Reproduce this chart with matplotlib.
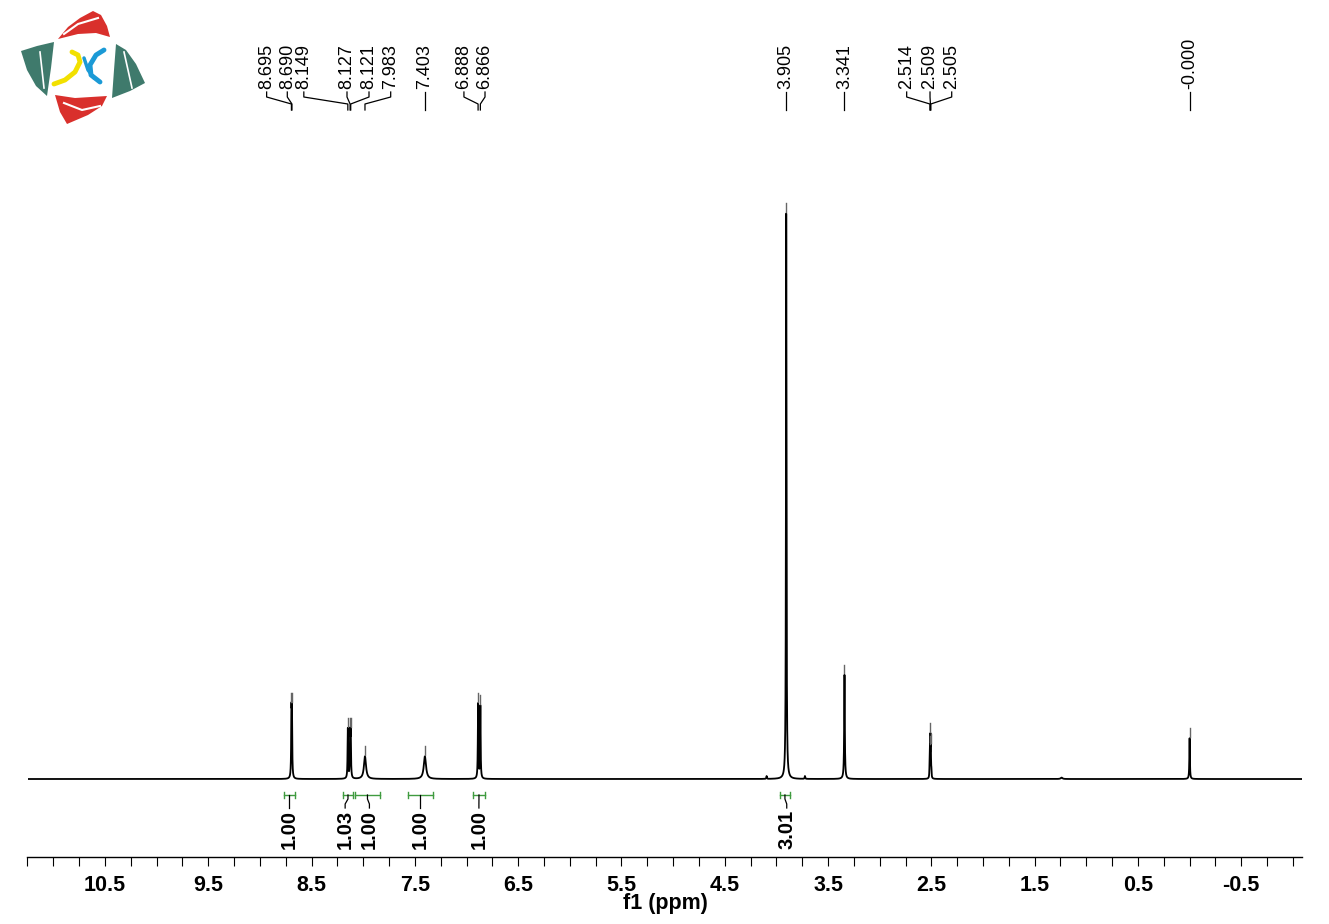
import numpy as np
import matplotlib
matplotlib.use('Agg')
import matplotlib.pyplot as plt
from matplotlib import transforms, font_manager
from matplotlib.patches import Polygon
from matplotlib.ticker import FixedLocator, MultipleLocator

# 1H NMR peak list: shift (ppm), height (3.905 = 100), half width (ppm)
peak_ppm = [8.695, 8.690, 8.149, 8.127, 8.121, 7.983, 7.403, 6.888, 6.866,
            4.095, 3.905, 3.724, 3.341, 2.518, 2.514, 2.509, 2.505, 2.500, 1.239, 0.000]
peak_height = [10.6, 10.6, 8.8, 7.4, 7.4, 4.0, 4.0, 13.2, 12.8,
               0.5, 100.0, 0.5, 18.4, 1.2, 4.5, 6.5, 4.5, 1.2, 0.25, 7.2]
peak_hwhm = [0.003, 0.003, 0.003, 0.003, 0.003, 0.012, 0.013, 0.003, 0.003,
             0.003, 0.003, 0.003, 0.0035, 0.002, 0.002, 0.002, 0.002, 0.002, 0.01, 0.003]

# picked peaks and where their labels sit along the top (ppm)
label_ppm = [8.695, 8.690, 8.149, 8.127, 8.121, 7.983, 7.403, 6.888, 6.866,
             3.905, 3.341, 2.514, 2.509, 2.505, 0.000]
label_pos = [8.935, 8.735, 8.575, 8.157, 7.944, 7.734, 7.403, 7.025, 6.821,
             3.905, 3.341, 2.739, 2.513, 2.303, 0.000]
label_text = ['8.695', '8.690', '8.149', '8.127', '8.121', '7.983', '7.403', '6.888',
              '6.866', '3.905', '3.341', '2.514', '2.509', '2.505', '-0.000']

# integrals: range (ppm), value, label position
int_from = [8.767, 8.196, 8.080, 7.567, 6.938, 3.966]
int_to = [8.661, 8.099, 7.838, 7.325, 6.821, 3.869]
int_value = ['1.00', '1.03', '1.00', '1.00', '1.00', '3.01']
int_label = [8.714, 8.175, 7.940, 7.446, 6.880, 3.900]

tick_labels = [10.5, 9.5, 8.5, 7.5, 6.5, 5.5, 4.5, 3.5, 2.5, 1.5, 0.5, -0.5]

W, H = 1329, 924
fig = plt.figure(figsize=(W / 100, H / 100), dpi=100)
# pixel coords measured from the top-left corner
pxT = transforms.Affine2D().scale(1 / W, -1 / H).translate(0, 1) + fig.transFigure

ax = fig.add_axes([27.5 / W, 1 - 857 / H, (1302.2 - 27.5) / W, (857 - 200) / H])
ax.set_xlim(11.25, -1.09)
ax.set_ylim(-13.78, 102.3)

x = np.linspace(11.25, -1.09, 60000)
y = np.zeros_like(x)
for p, h, w in zip(peak_ppm, peak_height, peak_hwhm):
    y += h / (1 + ((x - p) / w) ** 2)
ax.plot(x, y, color='black', lw=1.3)

# small peak-pick markers above the tops
for p in label_ppm:
    v = np.interp(-p, -x, y)
    ax.plot([p, p], [v + 0.25, v + 1.8], color='#666666', lw=1.0)

for s in ['top', 'left', 'right']:
    ax.spines[s].set_visible(False)
ax.spines['bottom'].set_linewidth(1.0)
ax.set_yticks([])

names = {f.name for f in font_manager.fontManager.ttflist}
if 'Liberation Sans Narrow' in names:
    tfam, tsize = 'Liberation Sans Narrow', 18.5
else:
    tfam, tsize = 'Liberation Sans', 15.5

ax.xaxis.set_major_locator(FixedLocator(tick_labels))
ax.xaxis.set_minor_locator(MultipleLocator(0.25))
ax.set_xticklabels([str(t) for t in tick_labels], fontfamily=tfam,
                   fontsize=tsize, fontweight='bold')
ax.tick_params(axis='x', which='both', direction='out', length=6.5, width=0.8, pad=6.5)
fig.text(665, 903, 'f1 (ppm)', transform=pxT, ha='center', va='center',
         fontfamily=tfam, fontsize=tsize, fontweight='bold')

# peak labels with leader lines
topT = transforms.blended_transform_factory(ax.transData, pxT)
for p, lp, t in zip(label_ppm, label_pos, label_text):
    ax.text(lp, 89, t, transform=topT, rotation=90, ha='center', va='bottom',
            fontfamily='Liberation Sans', fontsize=13)
    ax.plot([lp, lp, p, p], [92, 97, 104, 110], transform=topT, color='black',
            lw=0.9, clip_on=False)

# integral brackets
green = '#3f9b3f'
for a, b, v, lp in zip(int_from, int_to, int_value, int_label):
    ax.plot([a, b], [795, 795], transform=topT, color=green, lw=1.0, clip_on=False)
    for e in (a, b):
        ax.plot([e, e], [792, 798], transform=topT, color=green, lw=1.0, clip_on=False)
    mid = (a + b) / 2
    ax.plot([mid, mid, lp, lp], [795, 799, 804, 808], transform=topT, color='black',
            lw=0.9, clip_on=False)
    ax.text(lp, 810, v, transform=topT, rotation=90, ha='center', va='top',
            fontfamily='Liberation Sans', fontsize=14.5, fontweight='bold')

# logo in the top-left corner
red = '#d9302c'
teal = '#3f7a6c'
shapes = [
    ([(58, 39), (68, 27), (80, 18), (93, 11), (101, 15), (107, 26), (110, 37),
      (96, 33), (78, 34)], red),
    ([(55, 95), (75, 98), (107, 96), (102, 106), (88, 115), (67, 124), (60, 112)], red),
    ([(21, 51), (37, 46), (54, 42), (51, 68), (47, 96), (36, 86), (27, 70)], teal),
    ([(116, 44), (126, 50), (136, 64), (145, 83), (130, 91), (112, 98), (114, 70)], teal),
]
for pts, c in shapes:
    fig.patches.append(Polygon(pts, closed=True, transform=pxT, facecolor=c,
                               edgecolor='none'))
fig.add_artist(plt.Line2D([64, 78, 98], [34, 24, 18], transform=pxT, color='white', lw=1.5))
fig.add_artist(plt.Line2D([64, 82, 100], [103, 110, 106], transform=pxT, color='white', lw=1.5))
fig.add_artist(plt.Line2D([40, 44], [52, 88], transform=pxT, color='white', lw=1.2))
fig.add_artist(plt.Line2D([124, 132], [52, 88], transform=pxT, color='white', lw=1.2))
fig.add_artist(plt.Line2D([54, 65, 75, 80, 78, 72], [84, 80, 72, 62, 55, 52], transform=pxT,
                          color='#f2e000', lw=3.5, solid_capstyle='round'))
fig.add_artist(plt.Line2D([104, 96, 90, 91, 100], [50, 55, 65, 75, 82],
                          transform=pxT, color='#1b9ad6', lw=3.5, solid_capstyle='round'))
fig.add_artist(plt.Line2D([84, 88, 94], [58, 70, 78],
                          transform=pxT, color='#1b9ad6', lw=2.5, solid_capstyle='round'))

fig.savefig('out.png', dpi=100)
